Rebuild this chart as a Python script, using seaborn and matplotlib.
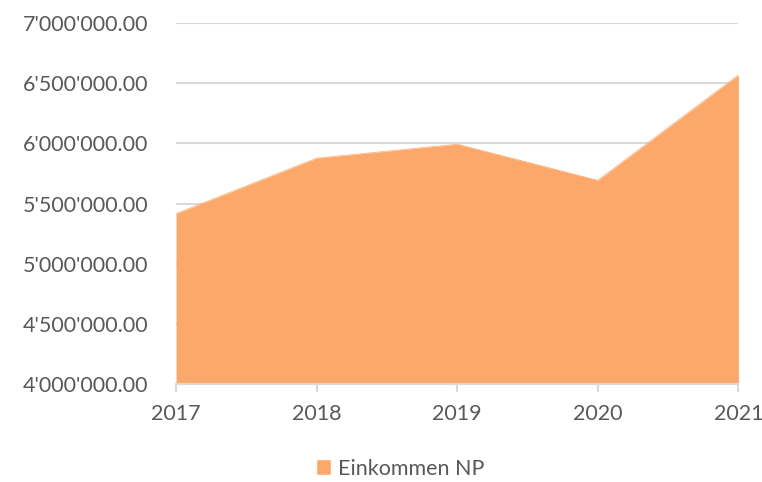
import numpy as np
import matplotlib
matplotlib.use("Agg")
import matplotlib.pyplot as plt
import matplotlib.ticker as mticker
from matplotlib.patches import Patch
import seaborn as sns
import pandas as pd

years = [2017, 2018, 2019, 2020, 2021]
einkommen = [5417000, 5878000, 5994000, 5694000, 6569000]
series_name = "Einkommen NP"

df = pd.DataFrame({"Jahr": years, series_name: einkommen})

sns.set_theme(style="white")
plt.rcParams['font.family'] = ['Lato', 'DejaVu Sans']

fill_col = "#FDA86B"
txt_col = "#595959"
grid_col = "#D9D9D9"

fig = plt.figure(figsize=(7.62, 4.82), dpi=100)
ax = fig.add_axes([0.231, 0.203, 0.738, 0.749])

sns.lineplot(data=df, x="Jahr", y=series_name, ax=ax, color=fill_col, linewidth=0.5)
ax.fill_between(df["Jahr"], df[series_name], 4000000, color=fill_col, linewidth=0, zorder=2)

ax.set_xlim(2017, 2021)
ax.set_ylim(4000000, 7000000)
ax.set_yticks(np.arange(4000000, 7000001, 500000))
ax.set_xticks(years)
ax.yaxis.set_major_formatter(mticker.FuncFormatter(lambda v, p: f"{v:,.2f}".replace(",", "'")))
ax.grid(axis="y", color=grid_col, linewidth=1.5, zorder=0)
ax.set_axisbelow(True)
for s in ["top", "right", "left"]:
    ax.spines[s].set_visible(False)
ax.spines["bottom"].set_color(grid_col)
ax.spines["bottom"].set_linewidth(1.5)
ax.tick_params(axis="x", colors=txt_col, labelsize=15.5, length=6, width=1.5, color=grid_col, pad=8, bottom=True)
ax.tick_params(axis="y", colors=txt_col, labelsize=15.5, length=0, pad=20)
ax.set_xlabel("")
ax.set_ylabel("")

fig.legend(handles=[Patch(facecolor=fill_col, label=series_name)], loc="center",
           bbox_to_anchor=(0.525, 0.028), frameon=False, fontsize=15.5, labelcolor=txt_col,
           handlelength=0.7, handleheight=0.7, handletextpad=0.3)

fig.savefig("out.png", dpi=100)
